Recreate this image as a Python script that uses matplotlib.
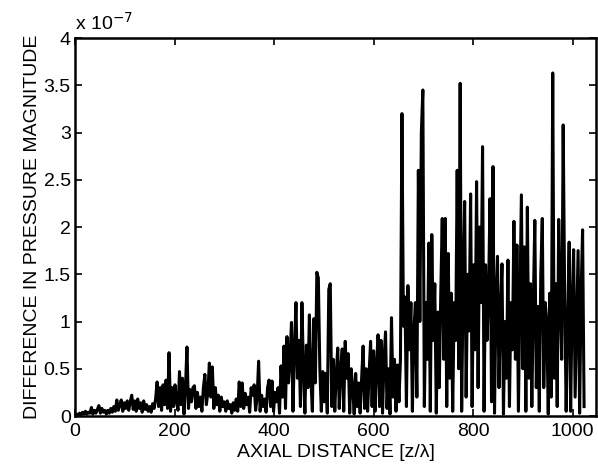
import numpy as np
import matplotlib
matplotlib.use("Agg")
import matplotlib.pyplot as plt
from matplotlib.ticker import FuncFormatter

plt.rcParams['font.family'] = ['Liberation Sans', 'DejaVu Sans']

# axial distance samples [z/lambda], one every 3 units from 0 to 1023
z = np.arange(0, 1024, 3)

# pressure magnitude difference, in units of 1e-7
dp = [
    0.00, 0.02, 0.01, 0.03, 0.01, 0.04, 0.02, 0.05, 0.02, 0.04,   # 0-27
    0.03, 0.09, 0.02, 0.06, 0.03, 0.07, 0.11, 0.03, 0.08, 0.04,   # 30-57
    0.06, 0.02, 0.06, 0.03, 0.08, 0.04, 0.10, 0.05, 0.17, 0.06,   # 60-87
    0.12, 0.17, 0.05, 0.14, 0.08, 0.16, 0.06, 0.15, 0.22, 0.07,   # 90-117
    0.16, 0.05, 0.18, 0.08, 0.14, 0.04, 0.16, 0.07, 0.12, 0.05,   # 120-147
    0.10, 0.04, 0.13, 0.08, 0.18, 0.36, 0.10, 0.30, 0.06, 0.33,   # 150-177
    0.12, 0.38, 0.08, 0.67, 0.05, 0.30, 0.10, 0.33, 0.15, 0.06,   # 180-207
    0.47, 0.12, 0.40, 0.02, 0.30, 0.73, 0.08, 0.28, 0.15, 0.30,   # 210-237
    0.32, 0.08, 0.25, 0.10, 0.20, 0.05, 0.30, 0.44, 0.12, 0.25,   # 240-267
    0.56, 0.20, 0.52, 0.08, 0.30, 0.12, 0.22, 0.05, 0.20, 0.10,   # 270-297
    0.15, 0.05, 0.16, 0.08, 0.12, 0.03, 0.14, 0.06, 0.18, 0.05,   # 300-327
    0.36, 0.10, 0.35, 0.08, 0.24, 0.12, 0.20, 0.04, 0.30, 0.22,   # 330-357
    0.33, 0.06, 0.20, 0.58, 0.05, 0.22, 0.10, 0.18, 0.04, 0.30,   # 360-387
    0.38, 0.10, 0.37, 0.05, 0.25, 0.15, 0.30, 0.03, 0.53, 0.20,   # 390-417
    0.74, 0.08, 0.84, 0.35, 0.60, 0.99, 0.05, 0.70, 1.20, 0.40,   # 420-447
    0.80, 0.10, 1.20, 0.50, 0.03, 0.75, 0.30, 1.07, 0.40, 0.05,   # 450-477
    1.03, 0.35, 1.52, 1.46, 0.50, 0.05, 0.47, 0.15, 0.45, 0.03,   # 480-507
    1.34, 1.40, 0.10, 0.60, 0.05, 0.45, 0.72, 0.08, 0.50, 0.71,   # 510-537
    0.05, 0.79, 0.40, 0.66, 0.03, 0.50, 0.30, 0.02, 0.45, 0.10,   # 540-567
    0.35, 0.03, 0.40, 0.74, 0.08, 0.50, 0.05, 0.45, 0.79, 0.10,   # 570-597
    0.69, 0.05, 0.55, 0.86, 0.10, 0.80, 0.03, 0.60, 0.89, 0.08,   # 600-627
    0.50, 0.02, 1.04, 0.20, 0.60, 0.05, 0.54, 0.15, 0.60, 3.20,   # 630-657
    0.95, 1.26, 0.10, 1.38, 0.70, 1.20, 0.05, 0.90, 1.20, 0.20,   # 660-687
    2.60, 1.00, 3.00, 3.45, 0.10, 1.20, 0.60, 1.83, 0.05, 1.92,   # 690-717
    0.80, 1.40, 0.03, 1.10, 0.30, 1.30, 2.09, 0.60, 2.09, 0.10,   # 720-747
    1.72, 0.40, 1.30, 0.05, 1.20, 0.80, 2.60, 0.50, 3.52, 0.05,   # 750-777
    1.40, 2.27, 0.20, 1.50, 0.90, 2.35, 0.10, 1.60, 0.70, 2.48,   # 780-807
    0.30, 2.00, 1.20, 2.85, 0.05, 1.60, 0.80, 1.30, 2.30, 0.15,   # 810-837
    2.64, 0.03, 1.20, 1.69, 0.30, 1.10, 1.61, 0.02, 1.00, 0.40,   # 840-867
    1.65, 0.10, 1.20, 0.70, 2.06, 0.60, 1.81, 0.05, 1.20, 2.34,   # 870-897
    0.50, 1.79, 0.05, 2.21, 0.40, 1.40, 0.10, 1.20, 2.07, 0.30,   # 900-927
    1.16, 0.05, 1.50, 2.09, 0.30, 1.20, 1.00, 0.02, 1.30, 0.20,   # 930-957
    3.63, 0.40, 1.40, 0.10, 2.08, 1.20, 0.60, 3.08, 1.26, 0.05,   # 960-987
    1.00, 1.84, 0.05, 1.20, 1.76, 0.20, 1.00, 1.75, 0.03, 1.30,   # 990-1017
    1.97, 0.10,                                                   # 1020-1023
]

yticks = [0, 0.5, 1, 1.5, 2, 2.5, 3, 3.5, 4]
xticks = [0, 200, 400, 600, 800, 1000]

fig = plt.figure(figsize=(5.98, 4.68), dpi=100)
ax = fig.add_axes([0.1254, 0.1111, 0.8713, 0.8077])

ax.plot(z, np.array(dp) * 1e-7, color='black', lw=2.2)

ax.set_xlim(0, 1047)
ax.set_ylim(0, 4e-7)
ax.set_xticks(xticks)
ax.set_yticks([v * 1e-7 for v in yticks])
ax.yaxis.set_major_formatter(FuncFormatter(lambda v, p: '%g' % round(v / 1e-7, 3)))

ax.tick_params(direction='in', top=True, right=True, length=5, width=1.2,
               labelsize=14)
ax.tick_params(axis='x', pad=5)
ax.tick_params(axis='y', pad=3)
for s in ax.spines.values():
    s.set_linewidth(1.8)

ax.set_xlabel('AXIAL DISTANCE [z/λ]', fontsize=14, labelpad=3)
ax.set_ylabel('DIFFERENCE IN PRESSURE MAGNITUDE', fontsize=14, labelpad=2)
ax.text(0.0, 1.012, 'x 10$^{-7}$', transform=ax.transAxes, fontsize=14,
        ha='left', va='bottom')

fig.savefig('out.png', dpi=100)
